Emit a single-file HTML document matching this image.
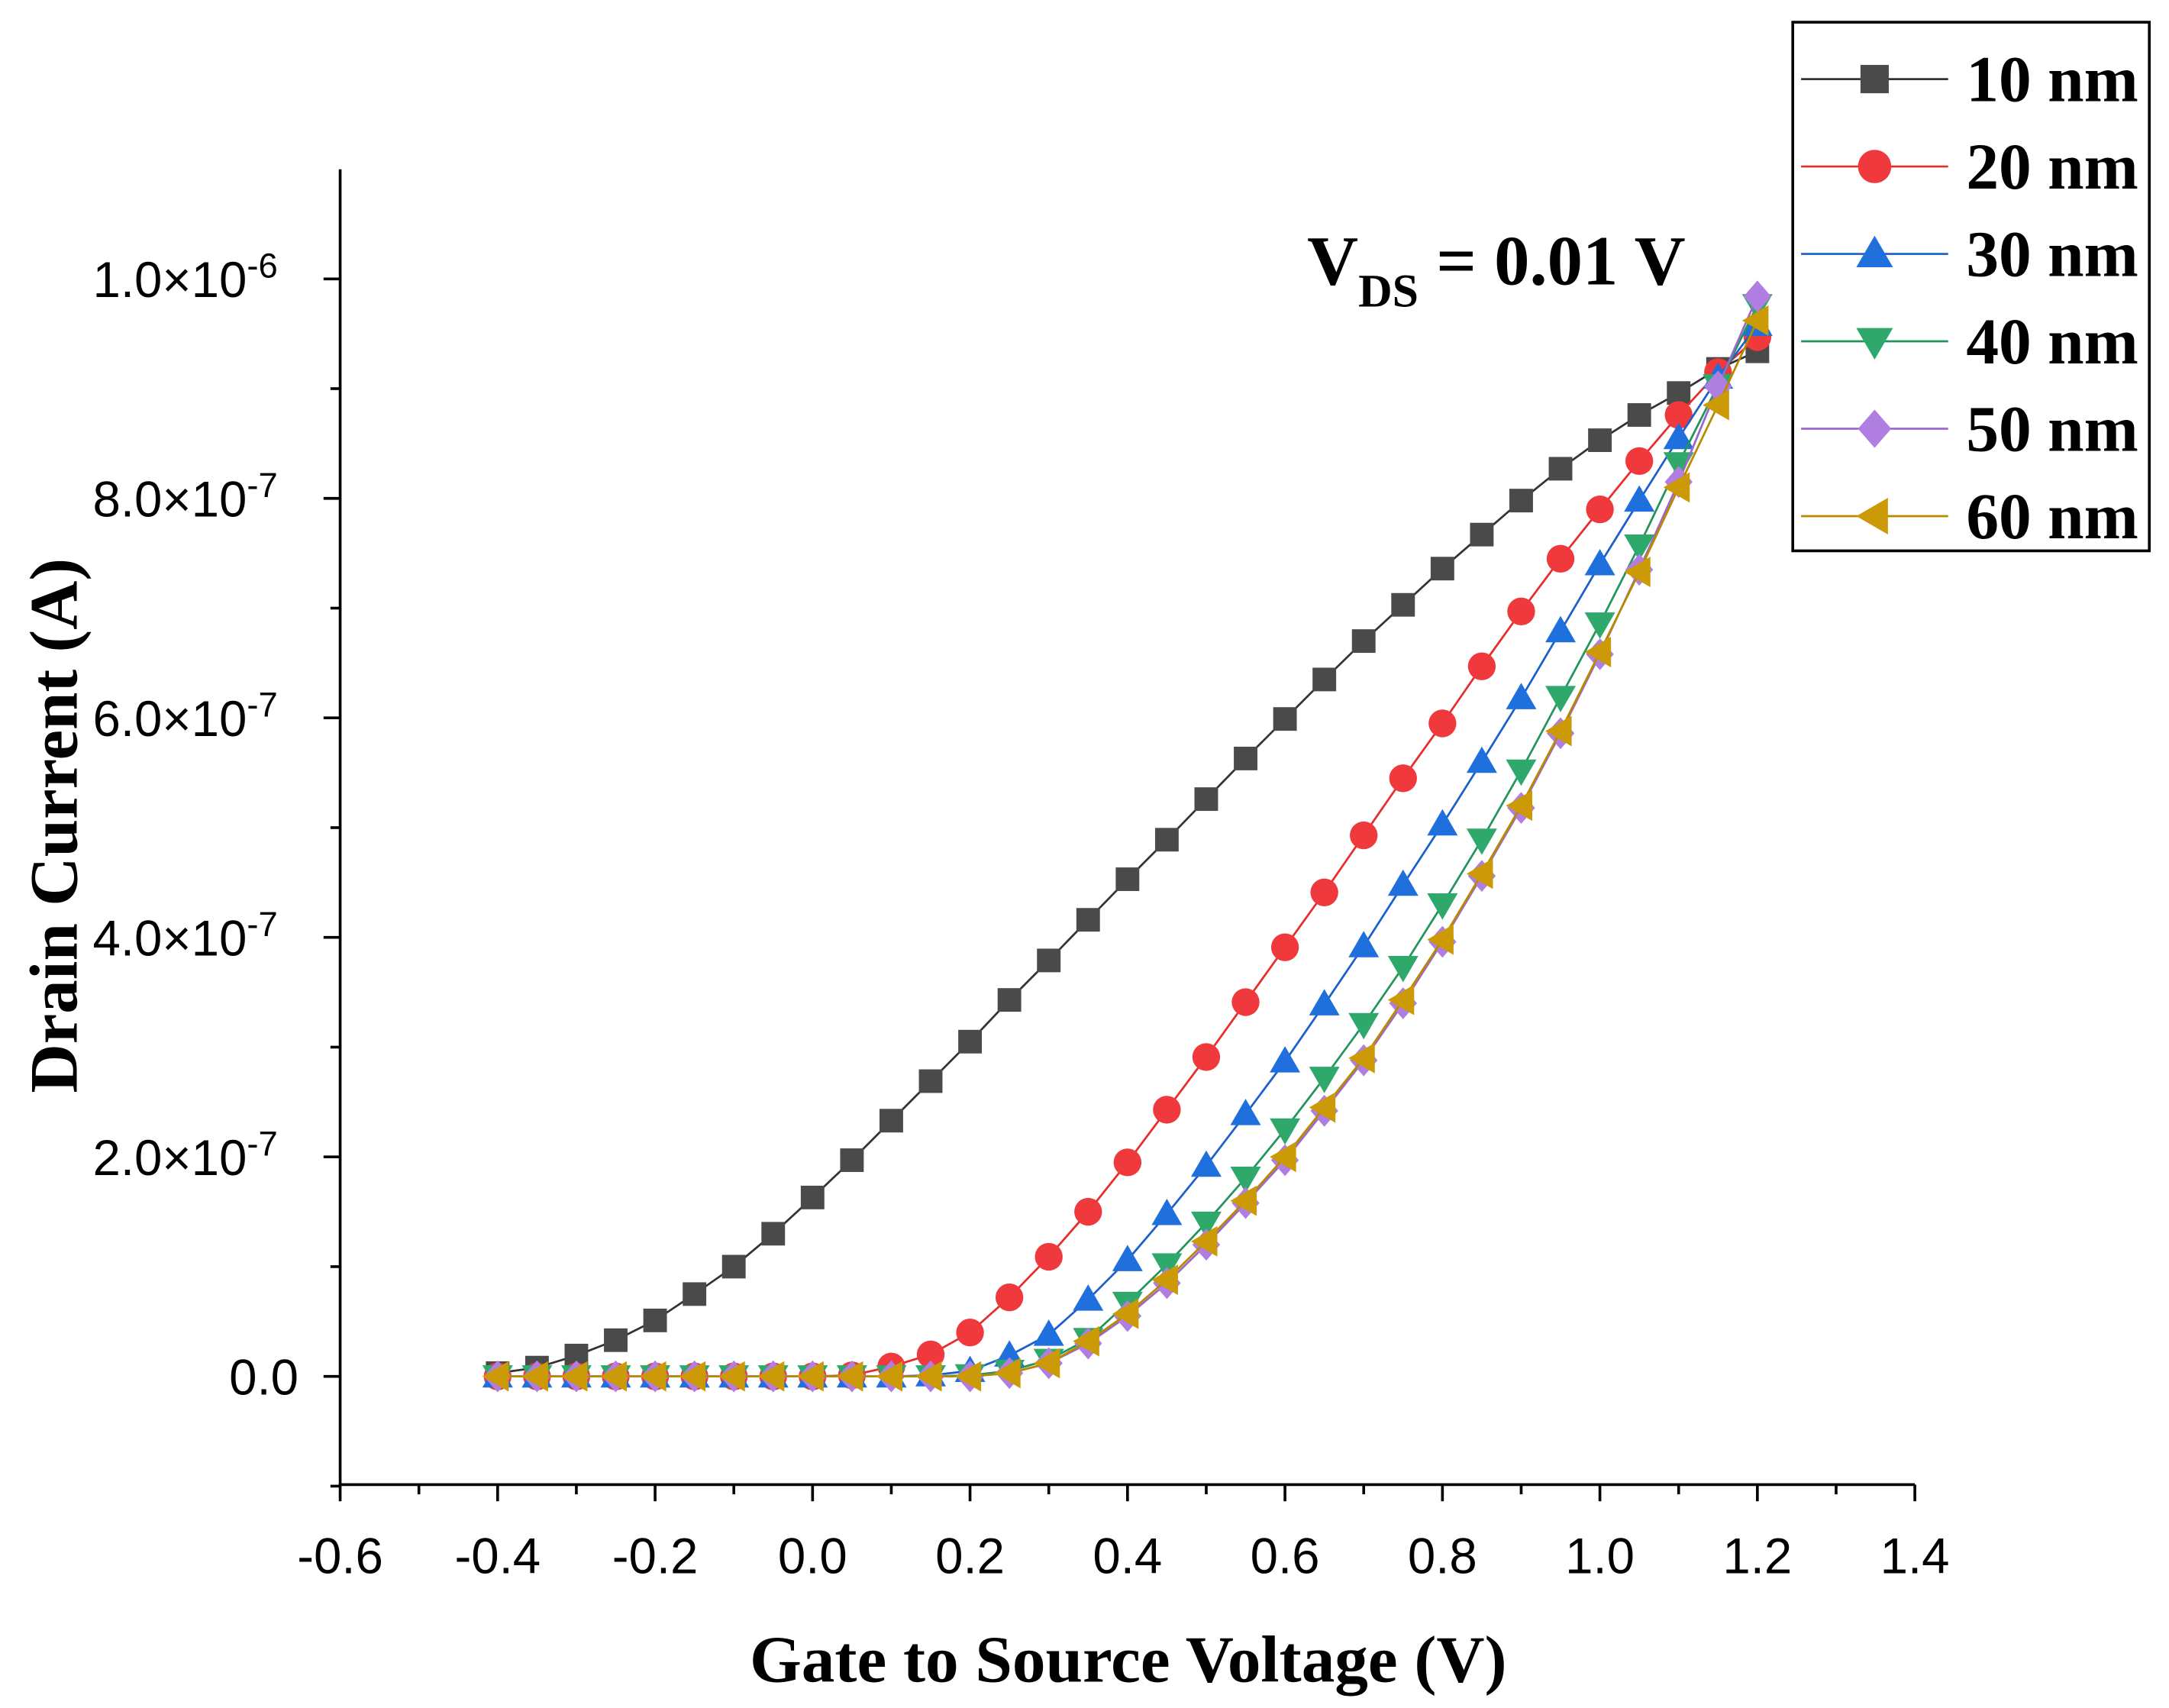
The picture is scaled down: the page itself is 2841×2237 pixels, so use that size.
<!DOCTYPE html>
<html><head><meta charset="utf-8"><style>
html,body{margin:0;padding:0;background:#fff}
svg{display:block}
</style></head><body>
<svg id="chart" width="2841" height="2237" viewBox="0 0 1563 1231" xmlns="http://www.w3.org/2000/svg">
<rect width="1563" height="1231" fill="#fff"/>
<g id="axes"></g>
<g id="series"></g>
<text x="942" y="205" font-family="Liberation Serif, serif" font-weight="bold" font-size="51">V<tspan font-size="34" dy="16">DS</tspan><tspan dy="-16"> = 0.01 V</tspan></text>
<text x="813" y="1212" text-anchor="middle" font-family="Liberation Serif, serif" font-weight="bold" font-size="48">Gate to Source Voltage (V)</text>
<text transform="translate(55,595) rotate(-90)" text-anchor="middle" font-family="Liberation Serif, serif" font-weight="bold" font-size="49">Drain Current (A)</text>
<g id="legend"></g>
</svg>
<script>
const xs = [-0.4,-0.35,-0.3,-0.25,-0.2,-0.15,-0.1,-0.05,0,0.05,0.1,0.15,0.2,0.25,0.3,0.35,0.4,0.45,0.5,0.55,0.6,0.65,0.7,0.75,0.8,0.85,0.9,0.95,1.0,1.05,1.1,1.15,1.2];
const s10 = [0.03,0.08,0.19,0.33,0.51,0.75,1.0,1.3,1.63,1.97,2.33,2.69,3.05,3.43,3.79,4.16,4.53,4.89,5.26,5.63,5.99,6.35,6.7,7.03,7.36,7.67,7.98,8.27,8.53,8.76,8.96,9.18,9.34];
const s20 = [0,0,0,0,0,0,0,0,0,0.01,0.09,0.2,0.4,0.72,1.09,1.5,1.95,2.43,2.91,3.41,3.91,4.41,4.93,5.45,5.95,6.47,6.97,7.45,7.9,8.34,8.76,9.15,9.47];
const s30 = [0,0,0,0,0,0,0,0,0,0,0,0.01,0.05,0.19,0.38,0.7,1.06,1.48,1.92,2.39,2.87,3.39,3.92,4.48,5.03,5.6,6.18,6.79,7.4,7.98,8.55,9.1,9.58];
const s40 = [0,0,0,0,0,0,0,0,0,0,0,0,0.01,0.05,0.15,0.34,0.67,1.02,1.4,1.81,2.25,2.72,3.21,3.73,4.3,4.89,5.52,6.19,6.86,7.57,8.32,9.03,9.76];
const s50 = [0,0,0,0,0,0,0,0,0,0,0,0,0,0.03,0.12,0.3,0.55,0.85,1.2,1.58,1.97,2.42,2.88,3.4,3.96,4.56,5.18,5.86,6.58,7.35,8.15,9.02,9.84];
const s60 = [0,0,0,0,0,0,0,0,0,0,0,0,0,0.03,0.12,0.32,0.57,0.88,1.23,1.6,2.0,2.45,2.9,3.43,3.98,4.58,5.2,5.88,6.6,7.33,8.1,8.85,9.62];
const seriesNames = ["10 nm","20 nm","30 nm","40 nm","50 nm","60 nm"];
const xTicks = [-0.6,-0.4,-0.2,0.0,0.2,0.4,0.6,0.8,1.0,1.2,1.4];
const xTickLabels = ["-0.6","-0.4","-0.2","0.0","0.2","0.4","0.6","0.8","1.0","1.2","1.4"];
const yTicks = [0,2,4,6,8,10];
const yTickMant = ["0.0","2.0","4.0","6.0","8.0","1.0"];
const yTickExp = ["","-7","-7","-7","-7","-6"];

const NS="http://www.w3.org/2000/svg";
const X = v => 585.5 + v*567.5;
const Y = v => 992 - v*79.1;
function mk(tag, attrs, parent){const e=document.createElementNS(NS,tag);for(const k in attrs)e.setAttribute(k,attrs[k]);parent.appendChild(e);return e;}
const axes=document.getElementById('axes');
let l=mk('line',{x1:245,y1:122,x2:245,y2:1071,stroke:'#000','stroke-width':2},axes);


l=mk('line',{x1:244,y1:1070,x2:1380,y2:1070,stroke:'#000','stroke-width':2},axes);


xTicks.forEach((t,i)=>{
  const x=X(t);
  const tk=mk('line',{x1:x,y1:1070,x2:x,y2:1082,stroke:'#000','stroke-width':2},axes);
  
  
  if(i<xTicks.length-1){const m=X(t+0.1);const mt=mk('line',{x1:m,y1:1070,x2:m,y2:1077,stroke:'#000','stroke-width':2},axes);
  
  }
  const tx=mk('text',{x:x,y:1134,'text-anchor':'middle','font-family':'Liberation Sans, sans-serif','font-size':36},axes);
  tx.textContent=xTickLabels[i];
  
  
});
yTicks.forEach((t,i)=>{
  const y=Y(t);
  const tk=mk('line',{x1:233,y1:y,x2:245,y2:y,stroke:'#000','stroke-width':2},axes);
  
  
  const tx=mk('text',{x:yTickExp[i]?200:215,y:y+13,'text-anchor':'end','font-family':'Liberation Sans, sans-serif','font-size':36},axes);
  
  
  if(yTickExp[i]){tx.textContent=yTickMant[i]+"×10";const sp=mk('tspan',{dy:-14,'font-size':25},tx);sp.textContent=yTickExp[i];}
  else tx.textContent=yTickMant[i];
});
[-1,1,3,5,7,9,11].forEach(t=>{const y=Y(t);if(y<122)return;const m=mk('line',{x1:238,y1:y,x2:245,y2:y,stroke:'#000','stroke-width':2},axes);

});

const colors=["#4a4a4a","#f0393c","#1f6fdc","#2ea86b","#b07ee0","#cc9a06"];
const strokes=["#333","#e82c2c","#1a5fcc","#24945c","#9a68cc","#b88a00"];
const data=[s10,s20,s30,s40,s50,s60];
const shapes=["square","circle","up","down","diamond","left"];
function marker(shape,cx,cy,r,fill,par){
  let e;
  if(shape==="square")e=mk('rect',{x:cx-r*0.85,y:cy-r*0.85,width:r*1.7,height:r*1.7,fill:fill},par);
  else if(shape==="circle")e=mk('circle',{cx:cx,cy:cy,r:r,fill:fill},par);
  else{let p;
    if(shape==="up")p=[[cx,cy-r*1.1],[cx+r*1.1,cy+r*0.8],[cx-r*1.1,cy+r*0.8]];
    else if(shape==="down")p=[[cx,cy+r*1.1],[cx+r*1.1,cy-r*0.8],[cx-r*1.1,cy-r*0.8]];
    else if(shape==="diamond")p=[[cx,cy-r*1.15],[cx+r*1.0,cy],[cx,cy+r*1.15],[cx-r*1.0,cy]];
    else p=[[cx-r*1.1,cy],[cx+r*0.8,cy-r*1.1],[cx+r*0.8,cy+r*1.1]];
    e=mk('polygon',{points:p.map(q=>q.join(',')).join(' '),fill:fill},par);}
  return e;
}
const sl=document.getElementById('series');
data.forEach((arr,si)=>{
  const g=mk('g',{},sl);
  
  
  const pl=mk('polyline',{points:arr.map((v,i)=>X(xs[i])+','+Y(v)).join(' '),fill:'none',stroke:strokes[si],'stroke-width':1.5},g);
  
  
  arr.forEach((v,i)=>{const m=marker(shapes[si],X(xs[i]),Y(v),10,colors[si],g);
    
    });
});
const lg=document.getElementById('legend');
const box=mk('rect',{x:1292,y:16,width:257,height:381,fill:'#fff',stroke:'#000','stroke-width':2},lg);


seriesNames.forEach((n,i)=>{
  const y=57+i*63;
  const g=mk('g',{},lg);
  
  
  mk('line',{x1:1298,y1:y,x2:1404,y2:y,stroke:strokes[i],'stroke-width':1.5},g);
  marker(shapes[i],1351,y,12,colors[i],g);
  const t=mk('text',{x:1417,y:y+16,'font-family':'Liberation Serif, serif','font-weight':'bold','font-size':47},g);
  t.textContent=n;
});
</script>
</body></html>
